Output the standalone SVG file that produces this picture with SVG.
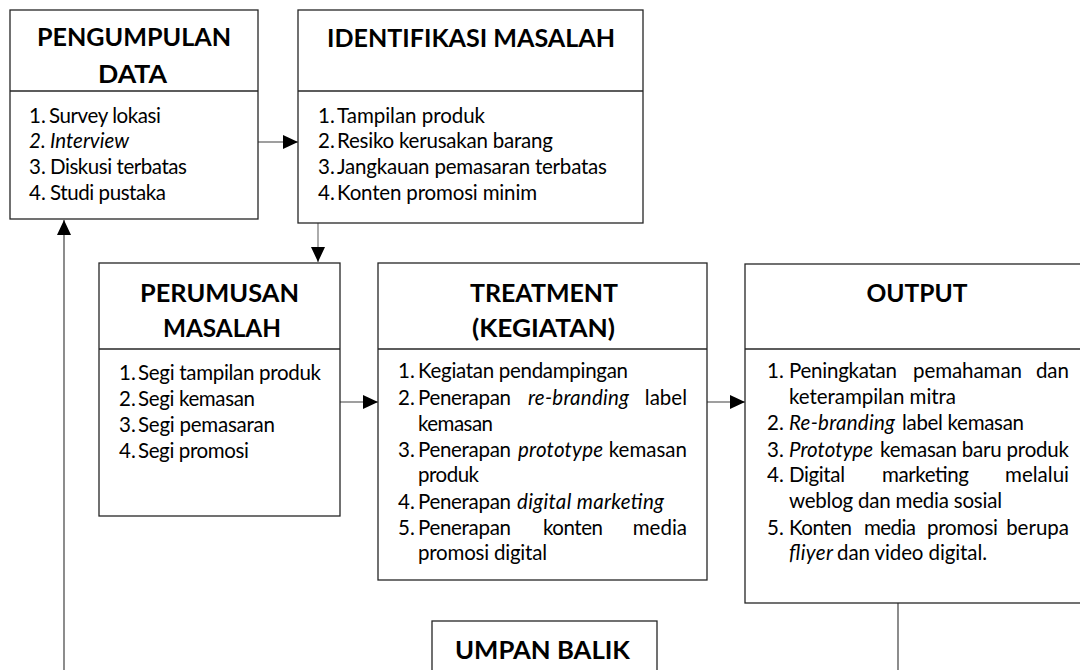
<svg xmlns="http://www.w3.org/2000/svg" width="1080" height="670" viewBox="0 0 1080 670">
<defs>
<style>
.box{fill:#fff;stroke:#262626;stroke-width:1.3}
.div{stroke:#262626;stroke-width:1.3}
.t{font-family:Lato,"Open Sans","Liberation Sans",sans-serif;font-weight:bold;font-size:25px;fill:#000;text-anchor:middle}
.b{font-family:Lato,"Open Sans","Liberation Sans",sans-serif;font-size:20.5px;fill:#000}
.i{font-style:italic}
.e{text-anchor:end}
.c{stroke:#7f7f7f;stroke-width:1.3;fill:none}
.d{stroke:#404040;stroke-width:1.2;fill:none}
</style>
<marker id="ah" markerUnits="userSpaceOnUse" markerWidth="15" markerHeight="14" refX="15" refY="7" orient="auto">
<path d="M0,0 L15,7 L0,14 z" fill="#000"/>
</marker>
</defs>
<rect width="1080" height="670" fill="#fff"/>

<g id="connectors">
<path class="c" d="M258,142 L298,142" marker-end="url(#ah)"/>
<path class="c" d="M318,223 L318,262" marker-end="url(#ah)"/>
<path class="c" d="M340,402 L378,402" marker-end="url(#ah)"/>
<path class="c" d="M707,402 L745,402" marker-end="url(#ah)"/>
<path class="d" d="M898,603 L898,670"/>
<path class="d" d="M64,670 L64,220" marker-end="url(#ah)"/>
</g>

<g id="pengumpulan">
<rect class="box" x="10" y="10" width="248" height="209"/>
<line class="div" x1="10" y1="91" x2="258" y2="91"/>
<text class="t" x="134" y="46" textLength="194" lengthAdjust="spacingAndGlyphs">PENGUMPULAN</text>
<text class="t" x="132.5" y="83" textLength="69" lengthAdjust="spacingAndGlyphs">DATA</text>
<text class="b" x="29" y="123">1.</text><text class="b" x="49" y="123" textLength="112">Survey lokasi</text>
<text class="b i" x="29" y="148">2.</text><text class="b i" x="50" y="148" textLength="79">Interview</text>
<text class="b" x="29" y="174">3.</text><text class="b" x="50" y="174" textLength="137">Diskusi terbatas</text>
<text class="b" x="29" y="200">4.</text><text class="b" x="50" y="200" textLength="116">Studi pustaka</text>
</g>

<g id="identifikasi">
<rect class="box" x="298" y="10" width="345" height="213"/>
<line class="div" x1="298" y1="91" x2="643" y2="91"/>
<text class="t" x="471" y="46.5" textLength="288" lengthAdjust="spacingAndGlyphs">IDENTIFIKASI MASALAH</text>
<text class="b" x="318" y="123">1.</text><text class="b" x="337" y="123" textLength="148">Tampilan produk</text>
<text class="b" x="318" y="148">2.</text><text class="b" x="337" y="148" textLength="216">Resiko kerusakan barang</text>
<text class="b" x="318" y="174">3.</text><text class="b" x="337" y="174" textLength="270">Jangkauan pemasaran terbatas</text>
<text class="b" x="318" y="200">4.</text><text class="b" x="337" y="200" textLength="200">Konten promosi minim</text>
</g>

<g id="perumusan">
<rect class="box" x="99" y="263" width="241" height="253"/>
<line class="div" x1="99" y1="349" x2="340" y2="349"/>
<text class="t" x="219.5" y="302" textLength="159" lengthAdjust="spacingAndGlyphs">PERUMUSAN</text>
<text class="t" x="222" y="337" textLength="118" lengthAdjust="spacingAndGlyphs">MASALAH</text>
<text class="b" x="119" y="380">1.</text><text class="b" x="138" y="380" textLength="183">Segi tampilan produk</text>
<text class="b" x="119" y="406">2.</text><text class="b" x="138" y="406" textLength="117">Segi kemasan</text>
<text class="b" x="119" y="432">3.</text><text class="b" x="138" y="432" textLength="137">Segi pemasaran</text>
<text class="b" x="119" y="458">4.</text><text class="b" x="138" y="458" textLength="111">Segi promosi</text>
</g>

<g id="treatment">
<rect class="box" x="378" y="263" width="329" height="317"/>
<line class="div" x1="378" y1="349" x2="707" y2="349"/>
<text class="t" x="544" y="302" textLength="148" lengthAdjust="spacingAndGlyphs">TREATMENT</text>
<text class="t" x="543.5" y="337" textLength="143" lengthAdjust="spacingAndGlyphs">(KEGIATAN)</text>
<text class="b" x="398" y="378">1.</text><text class="b" x="418" y="378" textLength="210">Kegiatan pendampingan</text>
<text class="b" x="398" y="405">2.</text><text class="b" x="418" y="405" textLength="93">Penerapan</text><text class="b i" x="528" y="405" textLength="101">re-branding</text><text class="b e" x="687" y="405">label</text>
<text class="b" x="418" y="431" textLength="75">kemasan</text>
<text class="b" x="398" y="457">3.</text><text class="b" x="418" y="457" textLength="93">Penerapan</text><text class="b i" x="518" y="457" textLength="85">prototype</text><text class="b e" x="687" y="457">kemasan</text>
<text class="b" x="418" y="482" textLength="61">produk</text>
<text class="b" x="398" y="509">4.</text><text class="b" x="418" y="509" textLength="93">Penerapan</text><text class="b i" x="517" y="509" textLength="147">digital marketing</text>
<text class="b" x="398" y="535">5.</text><text class="b" x="418" y="535" textLength="93">Penerapan</text><text class="b" x="543" y="535" textLength="60">konten</text><text class="b e" x="687" y="535">media</text>
<text class="b" x="418" y="560" textLength="129">promosi digital</text>
</g>

<g id="output">
<rect class="box" x="745" y="264" width="345" height="339"/>
<line class="div" x1="745" y1="349" x2="1080" y2="349"/>
<text class="t" x="917" y="302" textLength="101" lengthAdjust="spacingAndGlyphs">OUTPUT</text>
<text class="b" x="767" y="378">1.</text><text class="b" x="789" y="378" textLength="108">Peningkatan</text><text class="b" x="913" y="378" textLength="109">pemahaman</text><text class="b e" x="1069" y="378">dan</text>
<text class="b" x="789" y="404" textLength="167">keterampilan mitra</text>
<text class="b" x="767" y="430">2.</text><text class="b i" x="789" y="430" textLength="106">Re-branding</text><text class="b" x="902" y="430" textLength="122">label kemasan</text>
<text class="b" x="767" y="457">3.</text><text class="b i" x="789" y="457" textLength="84">Prototype</text><text class="b" x="880" y="457" textLength="189">kemasan baru produk</text>
<text class="b" x="767" y="482">4.</text><text class="b" x="789" y="482" textLength="56">Digital</text><text class="b" x="882" y="482" textLength="87">marketing</text><text class="b e" x="1069" y="482">melalui</text>
<text class="b" x="789" y="508" textLength="213">weblog dan media sosial</text>
<text class="b" x="767" y="535">5.</text><text class="b" x="789" y="535" textLength="63">Konten</text><text class="b" x="864" y="535" textLength="52">media</text><text class="b" x="927" y="535" textLength="71">promosi</text><text class="b e" x="1069" y="535">berupa</text>
<text class="b i" x="789" y="560" textLength="44">fliyer</text><text class="b" x="837" y="560" textLength="150">dan video digital.</text>
</g>

<g id="umpan-balik">
<rect class="box" x="432" y="621" width="225" height="70"/>
<text class="t" x="542.5" y="659" textLength="175" lengthAdjust="spacingAndGlyphs">UMPAN BALIK</text>
</g>
</svg>
